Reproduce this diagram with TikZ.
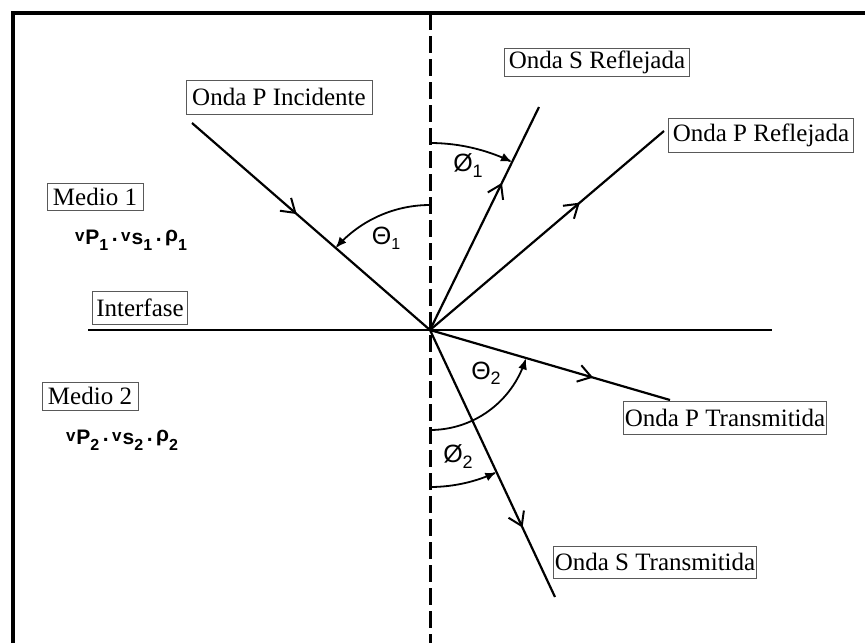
\documentclass[tikz,border=0pt]{standalone}
\usepackage{fontspec}
\setmainfont{Liberation Serif}
\newfontfamily\greekf{Liberation Sans}
\usetikzlibrary{arrows.meta,decorations.markings}
\newcommand{\velsub}[2]{{\fontsize{17}{18}\selectfont v}\kern1pt\raisebox{-0.25ex}{#1}\raisebox{-0.75ex}{\fontsize{16}{17}\selectfont #2}}
\begin{document}
\begin{tikzpicture}[x=1pt,y=-1pt,
  ray/.style={line width=2.2pt},
  midarrow/.style={postaction={decorate},decoration={markings,
     mark=at position #1 with {\arrow{Straight Barb[length=13pt,width=17pt,line width=2pt]}}}},
  anglearc/.style={line width=1.8pt,-{Latex[length=11pt,width=9pt]}},
  lbl/.style={draw=black!65,line width=0.8pt,inner sep=0pt,font=\fontsize{25}{28}\selectfont},
  glbl/.style={font=\greekf\fontsize{25}{27}\selectfont},
  vel/.style={font=\greekf\bfseries\fontsize{21}{24}\selectfont}]
\useasboundingbox (0,0) rectangle (865,643);
% frame
\draw[line width=4pt] (13,643) -- (13,13) -- (865,13);
% normal and interface
\coordinate (O) at (430,330);
\coordinate (Ntop) at (430,13);
\coordinate (Nbot) at (430,643);
\coordinate (Il) at (88,330);
\coordinate (Ir) at (772,330);
\draw[line width=3pt,dash pattern=on 17pt off 6pt] (Ntop) -- (Nbot);
\draw[line width=2.2pt] (Il) -- (Ir);
% ray ends
\coordinate (I) at (192,123);
\coordinate (SR) at (539,107);
\coordinate (PR) at (664,131);
\coordinate (PT) at (670,400);
\coordinate (ST) at (555,597);
\draw[ray,midarrow=0.44] (I) -- (O);
\draw[ray,midarrow=0.66] (O) -- (SR);
\draw[ray,midarrow=0.64] (O) -- (PR);
\draw[ray,midarrow=0.68] (O) -- (PT);
\draw[ray,midarrow=0.74] (O) -- (ST);
% angle arcs (y axis points down: angle -90 is straight up)
\draw[anglearc,shift={(O)}] plot[domain=-90:-139,samples=40,smooth] ({125*cos(\x)},{125*sin(\x)});
\draw[anglearc,shift={(O)}] plot[domain=-90:-64,samples=40,smooth] ({187*cos(\x)},{187*sin(\x)});
\draw[anglearc,shift={(O)}] plot[domain=90:16.5,samples=40,smooth] ({100*cos(\x)},{100*sin(\x)});
\draw[anglearc,shift={(O)}] plot[domain=90:65,samples=40,smooth] ({157*cos(\x)},{157*sin(\x)});
% angle labels
\node[glbl] (t1) at (386,238) {Θ\raisebox{-0.35ex}{\fontsize{16}{17}\selectfont 1}};
\node[glbl] (f1) at (468,166) {Ø\raisebox{-0.45ex}{\fontsize{18}{19}\selectfont 1}};
\node[glbl] (t2) at (486,373) {Θ\raisebox{-0.35ex}{\fontsize{18}{19}\selectfont 2}};
\node[glbl] (f2) at (458,457) {Ø\raisebox{-0.45ex}{\fontsize{18}{19}\selectfont 2}};
% labels
\node[lbl,minimum width=186pt,minimum height=34pt] (inc) at (279,97) {Onda P Incidente};
\node[lbl,minimum width=185pt,minimum height=28pt] (sref) at (597,62) {Onda S Reflejada};
\node[lbl,minimum width=185pt,minimum height=34pt] (pref) at (761,135) {Onda P Reflejada};
\node[lbl,minimum width=203pt,minimum height=33pt] (ptr) at (725,418) {Onda P Transmitida};
\node[lbl,minimum width=203pt,minimum height=32pt] (str) at (655,562) {Onda S Transmitida};
\node[lbl,minimum width=96pt,minimum height=27pt] (m1) at (95,197) {Medio 1};
\node[lbl,minimum width=95pt,minimum height=33pt] (ifz) at (140,308) {Interfase};
\node[lbl,minimum width=96pt,minimum height=28pt] (m2) at (90,396) {Medio 2};
\node[vel] (v1) at (131,240) {\velsub{P}{1}\,.\,\velsub{s}{1}\,.\,ρ\raisebox{-0.75ex}{\fontsize{16}{17}\selectfont 1}};
\node[vel] (v2) at (122,440) {\velsub{P}{2}\,.\,\velsub{s}{2}\,.\,ρ\raisebox{-0.75ex}{\fontsize{16}{17}\selectfont 2}};
\end{tikzpicture}
\end{document}
